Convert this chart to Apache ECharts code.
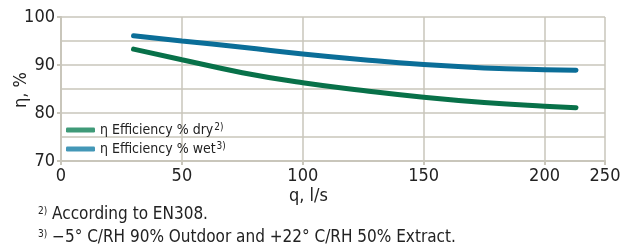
<!DOCTYPE html>
<html>
<head>
<meta charset="utf-8">
<script src="https://cdn.jsdelivr.net/npm/echarts@6/dist/echarts.min.js"></script>
<style>
  html, body { margin: 0; padding: 0; background: #fff; }
  #chart { width: 633px; height: 251px; }
</style>
</head>
<body>
<div id="chart"></div>
<script>
// flow q (axis units) and efficiency values
var qDry = [30, 50, 75, 100, 125, 150, 175, 200, 213];
var effDry = [93.3, 91.1, 88.4, 86.3, 84.7, 83.3, 82.2, 81.4, 81.1];
var qWet = [30, 50, 75, 100, 125, 150, 175, 200, 213];
var effWet = [96.1, 95.0, 93.7, 92.3, 91.1, 90.1, 89.4, 89.0, 88.9];

// the original axis puts its last label "250" at the end of the plot
var xTickValues = [0, 50, 100, 150, 200, 225];
var xTickLabels = ['0', '50', '100', '150', '200', '250'];
var seriesNames = ['η Efficiency % dry', 'η Efficiency % wet'];
var seriesNotes = ['2)', '3)'];

var fontNarrow = '"Liberation Sans Narrow", "DejaVu Sans Condensed", Roboto, sans-serif';
var gridColor = '#c9c6bb';

function pairs(xs, ys) {
  var out = [];
  for (var i = 0; i < xs.length; i++) out.push([xs[i], ys[i]]);
  return out;
}

var chart = echarts.init(document.getElementById('chart'));
chart.setOption({
  animation: false,
  grid: { left: 61, right: 28, top: 17, bottom: 90, outerBoundsMode: 'none', containLabel: false },
  legend: {
    left: 61,
    top: 117,
    orient: 'vertical',
    itemGap: 4,
    itemWidth: 29,
    itemHeight: 5,
    icon: 'roundRect',
    data: [
      { name: seriesNames[0], itemStyle: { color: '#3f9a78' } },
      { name: seriesNames[1], itemStyle: { color: '#4397b7' } }
    ],
    formatter: function (name) {
      var i = seriesNames.indexOf(name);
      return name + '{s|' + seriesNotes[i] + '}';
    },
    textStyle: {
      fontFamily: fontNarrow,
      fontSize: 14,
      color: '#222',
      rich: {
        s: { fontFamily: fontNarrow, fontSize: 10, color: '#222', verticalAlign: 'top', padding: [0, 0, 6, 1] }
      }
    }
  },
  xAxis: {
    type: 'value',
    min: 0,
    max: 225,
    interval: 25,
    axisLine: { show: true, lineStyle: { color: gridColor, width: 2 } },
    axisTick: { show: true, length: 4, customValues: xTickValues, lineStyle: { color: gridColor, width: 2 } },
    axisLabel: {
      customValues: xTickValues,
      margin: 6,
      fontFamily: fontNarrow,
      fontSize: 18,
      color: '#222',
      formatter: function (v) {
        var i = xTickValues.indexOf(v);
        return i >= 0 ? xTickLabels[i] : '';
      }
    },
    splitLine: { show: true, lineStyle: { color: gridColor, width: 1.5 } }
  },
  yAxis: {
    type: 'value',
    min: 70,
    max: 100,
    interval: 10,
    axisLine: { show: true, lineStyle: { color: gridColor, width: 2 } },
    axisTick: { show: true, length: 4, lineStyle: { color: gridColor, width: 2 } },
    axisLabel: { margin: 6, fontFamily: fontNarrow, fontSize: 18, color: '#222' },
    splitLine: { show: true, lineStyle: { color: gridColor, width: 1.5 } },
    minorTick: { show: false, splitNumber: 2 },
    minorSplitLine: { show: true, lineStyle: { color: gridColor, width: 1.5 } }
  },
  series: [
    {
      name: seriesNames[0],
      type: 'line',
      smooth: true,
      showSymbol: false,
      data: pairs(qDry, effDry),
      itemStyle: { color: '#087149' },
      lineStyle: { color: '#087149', width: 5, cap: 'round' }
    },
    {
      name: seriesNames[1],
      type: 'line',
      smooth: true,
      showSymbol: false,
      data: pairs(qWet, effWet),
      itemStyle: { color: '#0b6e98' },
      lineStyle: { color: '#0b6e98', width: 5, cap: 'round' }
    }
  ],
  graphic: [
    {
      type: 'text',
      x: 21,
      y: 90,
      rotation: Math.PI / 2,
      style: { text: 'η, %', font: '18px ' + fontNarrow, fill: '#222', align: 'center', verticalAlign: 'middle' }
    },
    {
      type: 'text',
      left: 289,
      top: 187,
      style: { text: 'q, l/s', font: '18px ' + fontNarrow, fill: '#222' }
    },
    {
      type: 'text',
      left: 38,
      top: 206,
      style: {
        text: '{s|2)} According to EN308.',
        font: '17px ' + fontNarrow,
        fill: '#222',
        rich: { s: { fontSize: 10, verticalAlign: 'top', padding: [0, 0, 6, 0], fontFamily: fontNarrow } }
      }
    },
    {
      type: 'text',
      left: 38,
      top: 229,
      style: {
        text: '{s|3)} −5° C/RH 90% Outdoor and +22° C/RH 50% Extract.',
        font: '17px ' + fontNarrow,
        fill: '#222',
        rich: { s: { fontSize: 10, verticalAlign: 'top', padding: [0, 0, 6, 0], fontFamily: fontNarrow } }
      }
    }
  ]
});
</script>
</body>
</html>
